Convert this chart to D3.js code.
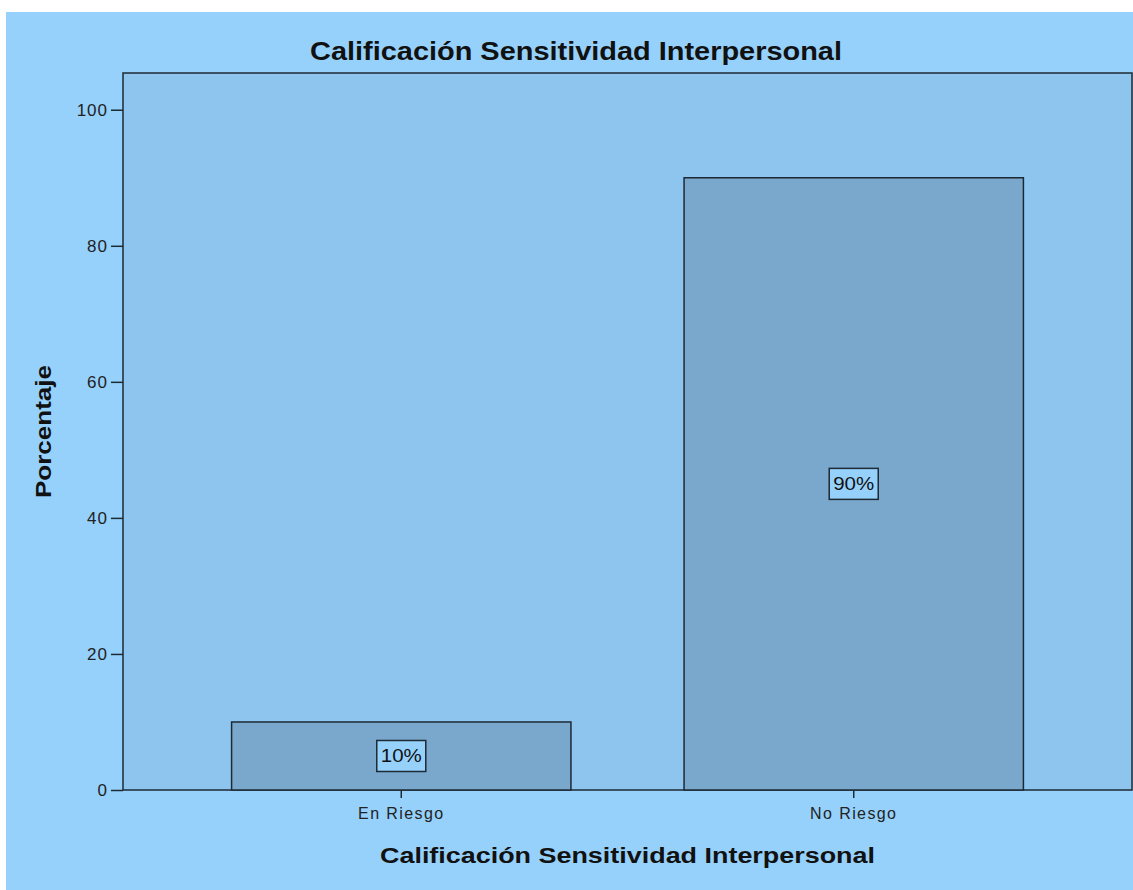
<!DOCTYPE html>
<html lang="en">
<head>
<meta charset="utf-8">
<title>Calificación Sensitividad Interpersonal</title>
<script src="https://d3js.org/d3.v7.min.js"></script>
<style>
  body { margin: 0; background: #ffffff; }
  text { font-family: "Liberation Sans", Arial, sans-serif; }
</style>
</head>
<body>
<div class="chart"></div>
<script>
// chart data
const categories = ["En Riesgo", "No Riesgo"];
const percentages = [10, 90];
const barLabels = ["10%", "90%"];
const yTicks = [0, 20, 40, 60, 80, 100];
const chartTitle = "Calificación Sensitividad Interpersonal";
const xTitle = "Calificación Sensitividad Interpersonal";
const yTitle = "Porcentaje";

const width = 1133, height = 890;
const margin = {top: 73, right: 1, bottom: 100, left: 123};

const svg = d3.select(".chart").append("svg")
    .attr("width", width)
    .attr("height", height);

// outer light blue background (white strip at top and left)
svg.append("rect")
    .attr("x", 6).attr("y", 12)
    .attr("width", width - 6).attr("height", height - 12)
    .attr("fill", "#96d1fc");

const x = d3.scaleBand()
    .domain(categories)
    .range([margin.left, width - margin.right])
    .paddingInner(0.25)
    .paddingOuter(0.24);

const y = d3.scaleLinear()
    .domain([0, 105.4])
    .range([height - margin.bottom, margin.top]);

// plot area
svg.append("rect")
    .attr("x", margin.left).attr("y", margin.top)
    .attr("width", width - margin.right - margin.left)
    .attr("height", height - margin.bottom - margin.top)
    .attr("fill", "#8ec5ee")
    .attr("stroke", "#1e2a33")
    .attr("stroke-width", 1.5);

// bars
svg.selectAll(".bar")
    .data(categories)
    .enter()
    .append("rect")
    .attr("class", "bar")
    .attr("x", d => x(d))
    .attr("y", (d, i) => y(percentages[i]))
    .attr("width", x.bandwidth())
    .attr("height", (d, i) => y(0) - y(percentages[i]))
    .attr("fill", "#7aa7cc")
    .attr("stroke", "#1e2a33")
    .attr("stroke-width", 1.5);

// value labels with boxes
const lab = svg.selectAll(".lab")
    .data(categories)
    .enter()
    .append("g")
    .attr("class", "lab")
    .attr("transform", (d, i) => `translate(${x(d) + x.bandwidth() / 2},${y(percentages[i] / 2)})`);

lab.append("rect")
    .attr("x", -24.5).attr("y", -15.5)
    .attr("width", 49).attr("height", 31)
    .attr("fill", "#96d1fc")
    .attr("stroke", "#1e2a33")
    .attr("stroke-width", 1.5);

lab.append("text")
    .attr("text-anchor", "middle")
    .attr("dy", "0.36em")
    .attr("textLength", 41)
    .attr("lengthAdjust", "spacingAndGlyphs")
    .style("font-size", "18px")
    .attr("fill", "#111")
    .text((d, i) => barLabels[i]);

// axes
const yAxis = d3.axisLeft(y).tickValues(yTicks).tickSize(12).tickPadding(3);
const gy = svg.append("g")
    .attr("transform", `translate(${margin.left},0)`)
    .call(yAxis);
gy.select(".domain").remove();
gy.selectAll(".tick line").attr("stroke", "#1e2a33").attr("stroke-width", 1.5);
gy.selectAll(".tick text")
    .style("font-size", "17px")
    .style("letter-spacing", "1px")
    .attr("fill", "#222");

const xAxis = d3.axisBottom(x).tickSize(8).tickPadding(10);
const gx = svg.append("g")
    .attr("transform", `translate(0,${height - margin.bottom})`)
    .call(xAxis);
gx.select(".domain").remove();
gx.selectAll(".tick line").attr("stroke", "#1e2a33").attr("stroke-width", 1.5);
gx.selectAll(".tick text")
    .style("font-size", "16px")
    .style("letter-spacing", "1.4px")
    .attr("fill", "#222");

// titles
svg.append("text")
    .attr("x", 576).attr("y", 60)
    .attr("text-anchor", "middle")
    .attr("textLength", 532)
    .attr("lengthAdjust", "spacingAndGlyphs")
    .style("font-size", "25px")
    .style("font-weight", "bold")
    .attr("fill", "#111")
    .text(chartTitle);

svg.append("text")
    .attr("x", 627.5).attr("y", 863)
    .attr("text-anchor", "middle")
    .attr("textLength", 495)
    .attr("lengthAdjust", "spacingAndGlyphs")
    .style("font-size", "22px")
    .style("font-weight", "bold")
    .attr("fill", "#111")
    .text(xTitle);

svg.append("text")
    .attr("transform", `translate(51,${(margin.top + height - margin.bottom) / 2}) rotate(-90)`)
    .attr("text-anchor", "middle")
    .attr("textLength", 133)
    .attr("lengthAdjust", "spacingAndGlyphs")
    .style("font-size", "22px")
    .style("font-weight", "bold")
    .attr("fill", "#111")
    .text(yTitle);
</script>
</body>
</html>
